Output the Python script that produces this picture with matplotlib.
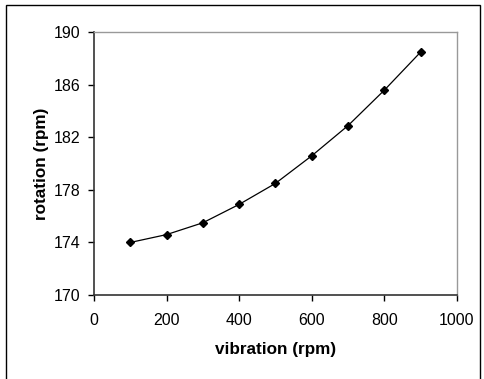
import matplotlib
matplotlib.use("Agg")
import matplotlib.pyplot as plt
from matplotlib.patches import Rectangle

plt.rcParams["font.family"] = ["Liberation Sans", "DejaVu Sans"]

vibration = [100, 200, 300, 400, 500, 600, 700, 800, 900]
rotation = [174.0, 174.6, 175.5, 176.9, 178.5, 180.6, 182.9, 185.6, 188.5]
xticks = [0, 200, 400, 600, 800, 1000]
yticks = [170, 174, 178, 182, 186, 190]

fig = plt.figure(figsize=(4.85, 3.79), dpi=100)
ax = fig.add_axes([94/485, 1 - 295/379, (457-94)/485, (295-32.3)/379])

ax.plot(vibration, rotation, color="black", linewidth=0.9,
        marker="D", markersize=4, markerfacecolor="black", markeredgecolor="black")

ax.set_xlim(0, 1000)
ax.set_ylim(170, 190)
ax.set_xticks(xticks)
ax.set_yticks(yticks)
ax.tick_params(direction="out", length=4, width=1, labelsize=11.5, colors="black")
ax.tick_params(axis="x", pad=9)
ax.tick_params(axis="y", pad=6)

for s in ["left", "bottom"]:
    ax.spines[s].set_color("#333333")
    ax.spines[s].set_linewidth(1.2)
for s in ["top", "right"]:
    ax.spines[s].set_color("#999999")
    ax.spines[s].set_linewidth(1.0)

ax.set_xlabel("vibration (rpm)", fontsize=12.3, fontweight="bold", labelpad=10)
ax.set_ylabel("rotation (rpm)", fontsize=12.3, fontweight="bold", labelpad=3)

# outer chart border
fig.patches.append(Rectangle((6/485, -0.01), (480-6)/485, 1 - 5/379 + 0.01,
                             transform=fig.transFigure, fill=False,
                             edgecolor="black", linewidth=1.0))

fig.savefig("out.png", dpi=100)
